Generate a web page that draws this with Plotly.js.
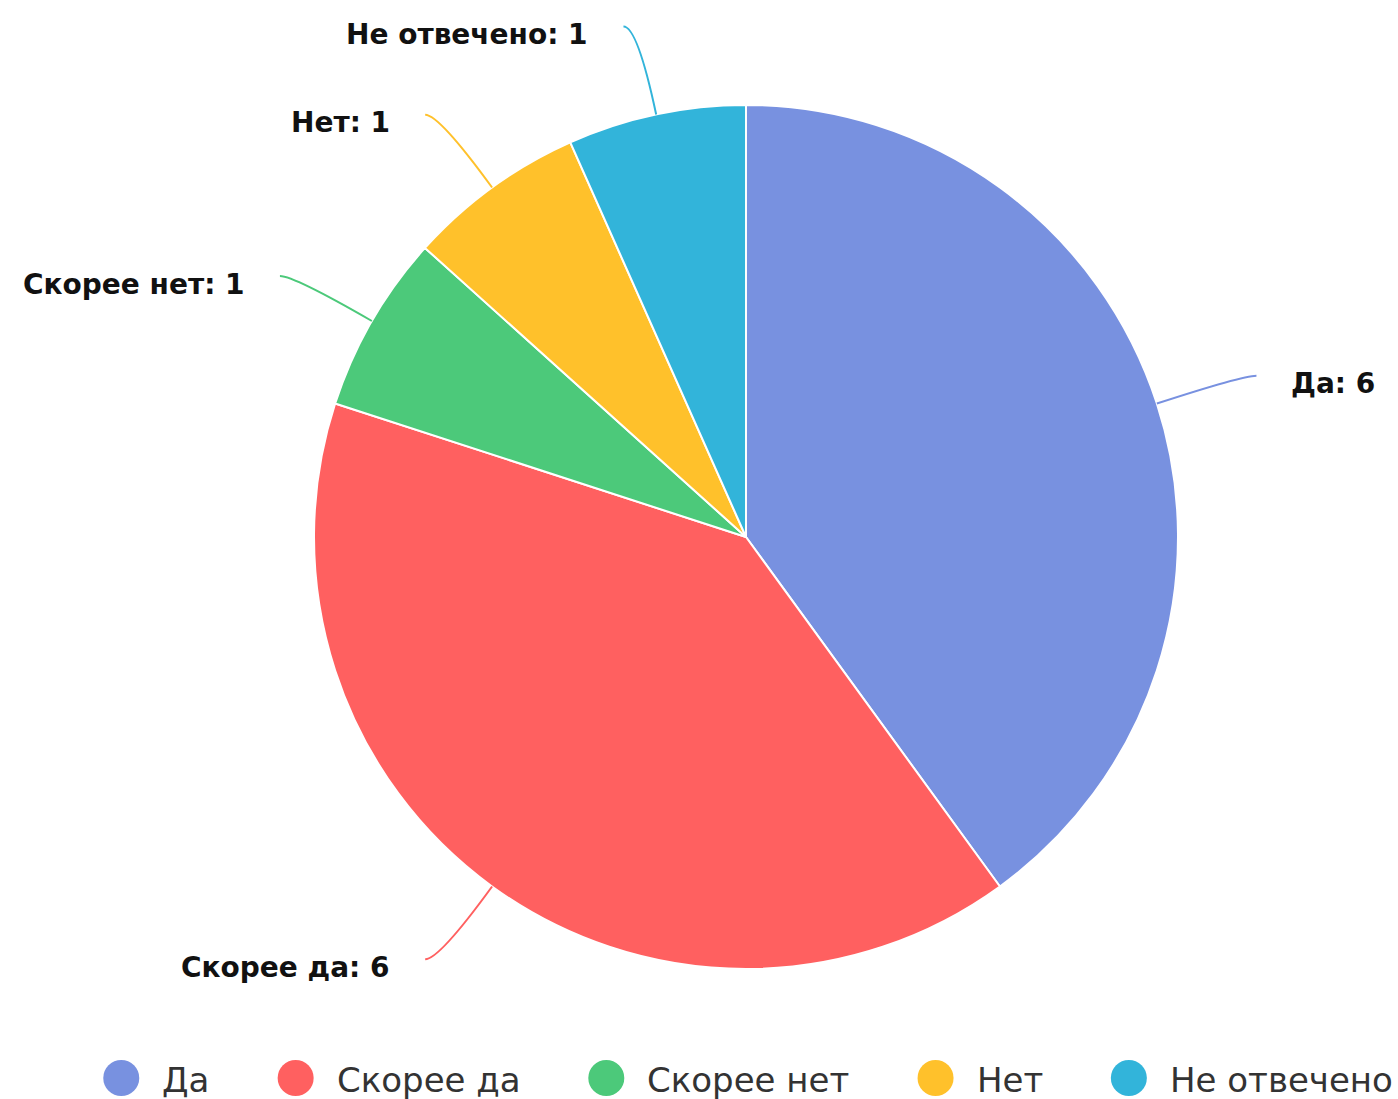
<!DOCTYPE html>
<html>
<head>
<meta charset="utf-8">
<script src="https://cdn.plot.ly/plotly-3.0.1.min.js"></script>
<style>html,body{margin:0;padding:0;background:#fff;}#chart{width:1398px;height:1099px;}</style>
</head>
<body>
<div id="chart"></div>
<script>
const categories = ['Да', 'Скорее да', 'Скорее нет', 'Нет', 'Не отвечено'];
const counts = [6, 6, 1, 1, 1];
const sliceColors = ['#7891e0', '#ff6060', '#4cc97a', '#ffc12b', '#32b4da'];

const W = 1398, H = 1099;
const cx = 746, cy = 537, R = 432;
const L1 = 90, L2 = 14, LABEL_GAP = 33, LABEL_DY = 8;
const FONT = '"DejaVu Sans", Verdana, sans-serif';
const LABEL_SIZE = 28, LEGEND_SIZE = 34;

const px = x => x / W;
const py = y => 1 - y / H;

const total = counts.reduce((a, b) => a + b, 0);
const shapes = [];
const annotations = [];

let cum = 0;
counts.forEach((v, i) => {
  const mid = (cum + v / 2) / total * 2 * Math.PI;
  cum += v;
  const ux = Math.sin(mid), uy = -Math.cos(mid);
  const p0 = [cx + R * ux, cy + R * uy];
  const p1 = [cx + (R + L1) * ux, cy + (R + L1) * uy];
  const s = ux >= 0 ? 1 : -1;
  const p2 = [p1[0] + s * L2, p1[1]];
  shapes.push({
    type: 'path', xref: 'paper', yref: 'paper',
    path: `M ${px(p0[0])},${py(p0[1])} Q ${px(p1[0])},${py(p1[1])} ${px(p2[0])},${py(p2[1])}`,
    line: {color: sliceColors[i], width: 2}
  });
  annotations.push({
    xref: 'paper', yref: 'paper',
    x: px(p2[0] + s * LABEL_GAP), y: py(p2[1] + LABEL_DY),
    xanchor: s > 0 ? 'left' : 'right', yanchor: 'middle',
    showarrow: false,
    text: `<b>${categories[i]}: ${v}</b>`,
    font: {family: FONT, size: LABEL_SIZE, color: '#111'}
  });
});

// Legend (circle markers + text), centred under the pie
const ctx = document.createElement('canvas').getContext('2d');
ctx.font = `${LEGEND_SIZE}px ${FONT}`;
const DOT = 36, DOT_GAP = 21, ITEM_GAP = 70, LEG_CY = 1078, LEG_TY = 1080;
const widths = categories.map(c => DOT + DOT_GAP + ctx.measureText(c).width);
const legTotal = widths.reduce((a, b) => a + b, 0) + ITEM_GAP * (categories.length - 1);
let lx = 747 - legTotal / 2;
categories.forEach((c, i) => {
  shapes.push({
    type: 'circle', xref: 'paper', yref: 'paper',
    x0: px(lx), x1: px(lx + DOT), y0: py(LEG_CY + DOT / 2), y1: py(LEG_CY - DOT / 2),
    fillcolor: sliceColors[i], line: {width: 0}
  });
  annotations.push({
    xref: 'paper', yref: 'paper',
    x: px(lx + DOT + DOT_GAP), y: py(LEG_TY),
    xanchor: 'left', yanchor: 'middle', showarrow: false,
    text: c, font: {family: FONT, size: LEGEND_SIZE, color: '#333'}
  });
  lx += widths[i] + ITEM_GAP;
});

const trace = {
  type: 'pie',
  labels: categories,
  values: counts,
  sort: false,
  direction: 'clockwise',
  rotation: 0,
  marker: {colors: sliceColors, line: {color: '#ffffff', width: 2}},
  textinfo: 'none',
  hoverinfo: 'label+value',
  showlegend: false,
  domain: {x: [px(cx - R), px(cx + R)], y: [py(cy + R), py(cy - R)]}
};

Plotly.newPlot('chart', [trace], {
  width: W, height: H,
  margin: {l: 0, r: 0, t: 0, b: 0},
  paper_bgcolor: '#fff',
  showlegend: false,
  shapes: shapes,
  annotations: annotations
}, {displayModeBar: false, staticPlot: true});
</script>
</body>
</html>
